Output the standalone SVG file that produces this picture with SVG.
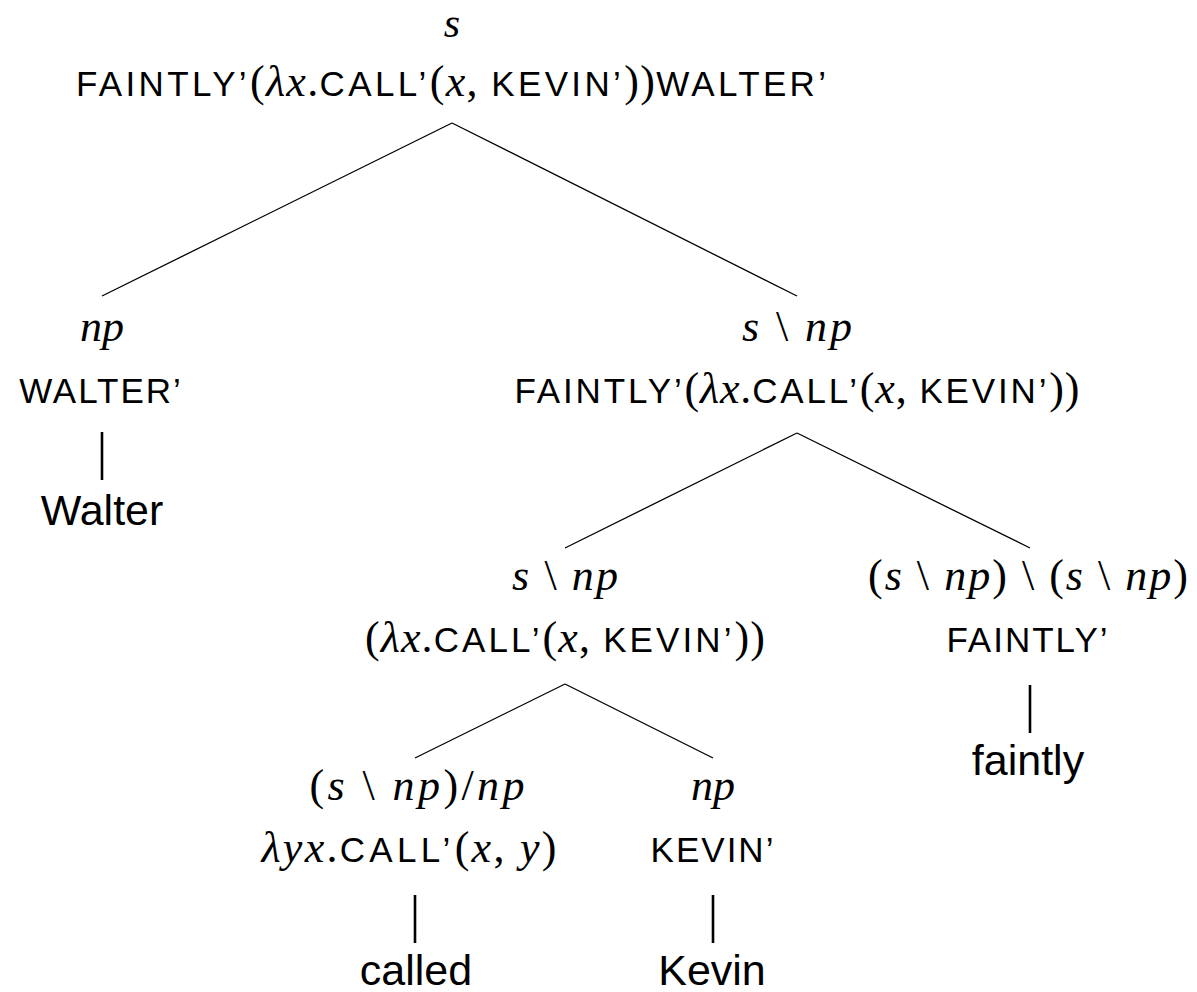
<svg xmlns="http://www.w3.org/2000/svg" width="1197" height="992" viewBox="0 0 1197 992">
<style>
text{fill:#000;text-anchor:middle}
.m{font-family:"Liberation Serif",serif;font-style:italic;font-size:44px}
.r{font-family:"Liberation Serif",serif;font-style:normal;font-size:44px}
.sc{font-family:"Liberation Sans",sans-serif;font-style:normal;font-size:35px;letter-spacing:2px}
.w{font-family:"Liberation Sans",sans-serif;font-size:43px}
.e{stroke:#000;stroke-width:1.3;fill:none}
.v{stroke:#000;stroke-width:2.6;fill:none}
</style>
<rect width="1197" height="992" fill="#fff"/>
<g id="connectors">
<line class="e" x1="452" y1="123" x2="102" y2="296"/>
<line class="e" x1="452" y1="123" x2="797" y2="296"/>
<line class="e" x1="797" y1="433" x2="565" y2="548"/>
<line class="e" x1="797" y1="433" x2="1030" y2="548"/>
<line class="e" x1="565" y1="684" x2="415" y2="758"/>
<line class="e" x1="565" y1="684" x2="713" y2="758"/>
<line class="v" x1="102" y1="432" x2="102" y2="480"/>
<line class="v" x1="1030" y1="685" x2="1030" y2="733"/>
<line class="v" x1="415" y1="895" x2="415" y2="943"/>
<line class="v" x1="713" y1="895" x2="713" y2="943"/>
</g>
<g id="n-root">
<text class="m" x="452" y="37" style="font-size:42px">s</text>
<text x="452" y="96" class="r" textLength="752" lengthAdjust="spacing"><tspan class="sc">FAINTLY’</tspan>(<tspan class="m">λx</tspan>.<tspan class="sc">CALL’</tspan>(<tspan class="m">x</tspan>, <tspan class="sc">KEVIN’</tspan>))<tspan class="sc">WALTER’</tspan></text>
</g>
<g id="n-np-walter">
<text class="m" x="102" y="341">np</text>
<text class="sc" x="101" y="403">WALTER’</text>
</g>
<g id="w-walter"><text class="w" x="102" y="525">Walter</text></g>
<g id="n-vp">
<text class="m" x="797" y="341" textLength="110" lengthAdjust="spacing">s <tspan class="r">\</tspan> np</text>
<text x="797" y="403" class="r" textLength="565" lengthAdjust="spacing"><tspan class="sc">FAINTLY’</tspan>(<tspan class="m">λx</tspan>.<tspan class="sc">CALL’</tspan>(<tspan class="m">x</tspan>, <tspan class="sc">KEVIN’</tspan>))</text>
</g>
<g id="n-vp2">
<text class="m" x="565" y="590" textLength="106" lengthAdjust="spacing">s <tspan class="r">\</tspan> np</text>
<text x="565" y="652" class="r" textLength="400" lengthAdjust="spacing">(<tspan class="m">λx</tspan>.<tspan class="sc">CALL’</tspan>(<tspan class="m">x</tspan>, <tspan class="sc">KEVIN’</tspan>))</text>
</g>
<g id="n-adv">
<text class="r" x="1028" y="590" textLength="320" lengthAdjust="spacing">(<tspan class="m">s</tspan> \ <tspan class="m">np</tspan>) \ (<tspan class="m">s</tspan> \ <tspan class="m">np</tspan>)</text>
<text class="sc" x="1028" y="652">FAINTLY’</text>
</g>
<g id="w-faintly"><text class="w" x="1028" y="775">faintly</text></g>
<g id="n-tv">
<text class="r" x="417" y="800" textLength="215" lengthAdjust="spacing">(<tspan class="m">s</tspan> \ <tspan class="m">np</tspan>)/<tspan class="m">np</tspan></text>
<text class="r" x="409" y="862" textLength="295" lengthAdjust="spacing"><tspan class="m">λyx</tspan>.<tspan class="sc">CALL’</tspan>(<tspan class="m">x</tspan>, <tspan class="m">y</tspan>)</text>
</g>
<g id="n-np-kevin">
<text class="m" x="713" y="800">np</text>
<text class="sc" x="713" y="862">KEVIN’</text>
</g>
<g id="w-called"><text class="w" x="416" y="985">called</text></g>
<g id="w-kevin"><text class="w" x="712" y="985">Kevin</text></g>
</svg>
